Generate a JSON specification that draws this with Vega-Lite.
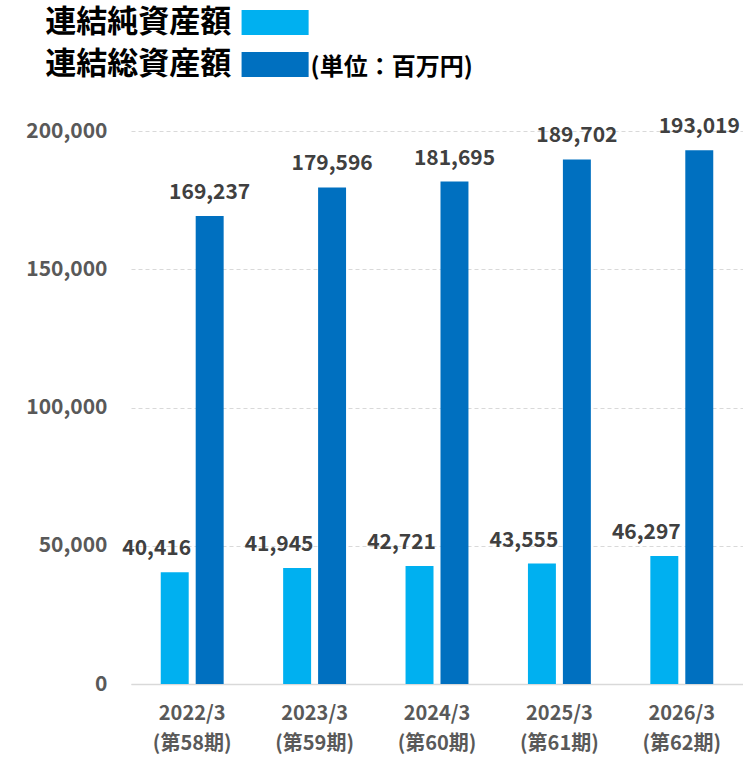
{
  "$schema": "https://vega.github.io/schema/vega-lite/v6.json",
  "autosize": {"type": "none"},
  "width": 612,
  "height": 553,
  "padding": {"left": 131, "top": 131, "right": 0, "bottom": 76},
  "background": "#ffffff",
  "config": {
    "font": "Noto Sans CJK JP",
    "view": {"stroke": null},
    "axis": {"labelFont": "Noto Sans CJK JP", "labelFontWeight": "bold", "labelColor": "#595959"}
  },
  "data": {
    "values": [
      {"period": "2022/3 (第58期)", "series": "連結純資産額", "value": 40416},
      {"period": "2022/3 (第58期)", "series": "連結総資産額", "value": 169237},
      {"period": "2023/3 (第59期)", "series": "連結純資産額", "value": 41945},
      {"period": "2023/3 (第59期)", "series": "連結総資産額", "value": 179596},
      {"period": "2024/3 (第60期)", "series": "連結純資産額", "value": 42721},
      {"period": "2024/3 (第60期)", "series": "連結総資産額", "value": 181695},
      {"period": "2025/3 (第61期)", "series": "連結純資産額", "value": 43555},
      {"period": "2025/3 (第61期)", "series": "連結総資産額", "value": 189702},
      {"period": "2026/3 (第62期)", "series": "連結純資産額", "value": 46297},
      {"period": "2026/3 (第62期)", "series": "連結総資産額", "value": 193019}
    ]
  },
  "encoding": {
    "x": {
      "field": "period",
      "type": "nominal",
      "sort": null,
      "scale": {"paddingInner": 0.486, "paddingOuter": 0.243},
      "axis": {
        "title": null,
        "labelAngle": 0,
        "labelExpr": "split(datum.label, ' ')",
        "labelFontSize": 20,
        "labelLineHeight": 30,
        "labelBaseline": "top",
        "labelPadding": 19,
        "ticks": false,
        "tickSize": 0,
        "domainColor": "#d9d9d9",
        "domainWidth": 1.5,
        "grid": false
      }
    },
    "xOffset": {
      "field": "series",
      "type": "nominal",
      "sort": ["連結純資産額", "連結総資産額"],
      "scale": {"paddingInner": 0.2, "paddingOuter": 0}
    },
    "y": {
      "field": "value",
      "type": "quantitative",
      "scale": {"domain": [0, 200000], "nice": false},
      "axis": {
        "title": null,
        "values": [0, 50000, 100000, 150000, 200000],
        "format": ",d",
        "labelFontSize": 21,
        "labelPadding": 24,
        "ticks": false,
        "tickSize": 0,
        "domain": false,
        "gridColor": "#d9d9d9",
        "gridDash": [4, 3],
        "gridWidth": 1
      }
    }
  },
  "layer": [
    {
      "mark": {"type": "bar"},
      "encoding": {
        "color": {
          "field": "series",
          "type": "nominal",
          "sort": ["連結純資産額", "連結総資産額"],
          "scale": {"domain": ["連結純資産額", "連結総資産額"], "range": ["#00B0F0", "#0070C0"]},
          "legend": {
            "orient": "none",
            "legendX": 128.6,
            "legendY": -124,
            "padding": 0,
            "direction": "vertical",
            "symbolType": "M-2.6,-0.97H2.6V0.97H-2.6Z",
            "symbolSize": 665,
            "symbolStrokeWidth": 0,
            "symbolOpacity": 1,
            "labelAlign": "right",
            "labelOffset": -59.4,
            "labelFont": "Noto Sans CJK JP",
            "labelFontSize": 31,
            "labelFontWeight": "bold",
            "labelColor": "#000000",
            "labelLimit": 400,
            "rowPadding": 10,
            "title": "(単位：百万円)",
            "titleOrient": "right",
            "titleAnchor": "end",
            "titleBaseline": "bottom",
            "titleFont": "Noto Sans CJK JP",
            "titleFontSize": 24,
            "titleFontWeight": "bold",
            "titleColor": "#000000",
            "titlePadding": 2
          }
        }
      }
    },
    {
      "transform": [{"filter": "datum.series === '連結純資産額'"}],
      "mark": {"type": "text", "baseline": "alphabetic", "dy": -17, "dx": -18, "font": "Noto Sans CJK JP", "fontSize": 21, "fontWeight": "bold", "color": "#404040"},
      "encoding": {"text": {"field": "value", "type": "quantitative", "format": ",d"}}
    },
    {
      "transform": [{"filter": "datum.series === '連結総資産額'"}],
      "mark": {"type": "text", "baseline": "alphabetic", "dy": -17, "font": "Noto Sans CJK JP", "fontSize": 21, "fontWeight": "bold", "color": "#404040"},
      "encoding": {"text": {"field": "value", "type": "quantitative", "format": ",d"}}
    }
  ]
}
